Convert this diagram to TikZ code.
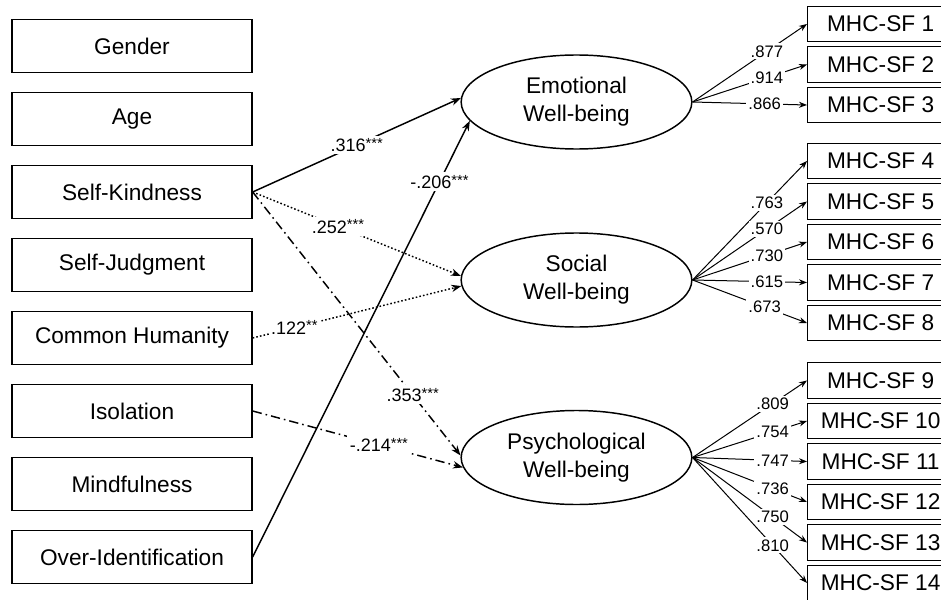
\documentclass[tikz,border=0pt]{standalone}
\usepackage{fontspec}
\setmainfont{Liberation Sans}
\usetikzlibrary{arrows.meta,shapes.geometric}
\def\pstar#1{\raisebox{2.5pt}{\fontsize{11}{11}\selectfont#1}}

\begin{document}
\begin{tikzpicture}[x=0.75pt,y=-0.75pt,obs/.style={shape=rectangle,draw=black,line width=1pt,minimum width=180pt,minimum height=39.75pt,font=\fontsize{17}{20}\selectfont},item/.style={shape=rectangle,draw=black,line width=0.9pt,minimum width=109.5pt,minimum height=26.5pt,anchor=west,font=\fontsize{17}{20}\selectfont},lat/.style={shape=ellipse,draw=black,line width=1.1pt,minimum width=173pt,minimum height=70.5pt,inner sep=0pt,align=center,font=\fontsize{17}{21}\selectfont},coef/.style={fill=white,inner sep=2pt,font=\fontsize{13.5}{15}\selectfont},lnum/.style={fill=white,inner sep=1.5pt,font=\fontsize{12.5}{13}\selectfont},reg/.style={line width=1.1pt,-{Stealth[length=7.5pt,width=5.5pt]}},regdot/.style={reg,dash pattern=on 1.2pt off 1.6pt},regdd/.style={reg,dash pattern=on 7pt off 3pt on 1.2pt off 3pt},ld/.style={line width=0.75pt,-{Stealth[length=6pt,width=4.5pt]}}]
\def\dy{73};
\def\xl{132};
\def\xm{576.5};
\def\xr{807};
\def\dyi{40.5};

\useasboundingbox (0,0) rectangle (941,599);
\clip (0,0) rectangle (941,599);

\node[obs] (Gen) at (\xl,46) {Gender};
\node[obs] (Age) at (\xl,46+\dy) {Age};
\node[obs] (SK) at (\xl,46+2*\dy) {Self-Kindness};
\node[obs] (SJ) at (\xl,46+3*\dy) {Self-Judgment};
\node[obs] (CH) at (\xl,46+4*\dy) {Common Humanity};
\node[obs] (Iso) at (\xl,46+5*\dy) {Isolation};
\node[obs] (Mind) at (\xl,46+6*\dy) {Mindfulness};
\node[obs] (OI) at (\xl,46+7*\dy) {Over-Identification};

\node[lat] (EWB) at (\xm,102) {Emotional\\Well-being};
\node[lat] (SWB) at (\xm,280) {Social\\Well-being};
\node[lat] (PWB) at (\xm,457.5) {Psychological\\Well-being};

\node[item] (M1) at (\xr,24) {MHC-SF 1};
\node[item] (M2) at (\xr,24+\dyi) {MHC-SF 2};
\node[item] (M3) at (\xr,24+2*\dyi) {MHC-SF 3};
\node[item] (M4) at (\xr,161) {MHC-SF 4};
\node[item] (M5) at (\xr,161+\dyi) {MHC-SF 5};
\node[item] (M6) at (\xr,161+2*\dyi) {MHC-SF 6};
\node[item] (M7) at (\xr,161+3*\dyi) {MHC-SF 7};
\node[item] (M8) at (\xr,161+4*\dyi) {MHC-SF 8};
\node[item] (M9) at (\xr,380.5) {MHC-SF 9};
\node[item] (M10) at (\xr,380.5+\dyi) {MHC-SF 10};
\node[item] (M11) at (\xr,380.5+2*\dyi) {MHC-SF 11};
\node[item] (M12) at (\xr,380.5+3*\dyi) {MHC-SF 12};
\node[item] (M13) at (\xr,380.5+4*\dyi) {MHC-SF 13};
\node[item] (M14) at (\xr,380.5+5*\dyi) {MHC-SF 14};

\draw[reg] (SK.east) -- node[coef,pos=.5] {.316\pstar{***}} (EWB.178);
\draw[reg] (OI.east) -- node[coef,pos=.86] {-.206\pstar{***}} (EWB.190);
\draw[regdot] (SK.east) -- node[coef,pos=.41] {.252\pstar{***}} (SWB.178);
\draw[regdot] (CH.east) -- node[coef,pos=.2] {.122\pstar{**}} (SWB.183);
\draw[regdd] (SK.east) -- node[coef,pos=.77] {.353\pstar{***}} (PWB.179);
\draw[regdd] (Iso.east) -- node[coef,pos=.6] {-.214\pstar{***}} (PWB.185);

\draw[ld] (EWB.east) -- node[lnum,pos=.65] {.877} (M1.west);
\draw[ld] (EWB.east) -- node[lnum,pos=.65] {.914} (M2.west);
\draw[ld] (EWB.east) -- node[lnum,pos=.63] {.866} (M3.west);

\draw[ld] (SWB.east) -- node[lnum,pos=.65] {.763} (M4.west);
\draw[ld] (SWB.east) -- node[lnum,pos=.65] {.570} (M5.west);
\draw[ld] (SWB.east) -- node[lnum,pos=.65] {.730} (M6.west);
\draw[ld] (SWB.east) -- node[lnum,pos=.65] {.615} (M7.west);
\draw[ld] (SWB.east) -- node[lnum,pos=.63] {.673} (M8.west);

\draw[ld] (PWB.east) -- node[lnum,pos=.7] {.809} (M9.west);
\draw[ld] (PWB.east) -- node[lnum,pos=.7] {.754} (M10.west);
\draw[ld] (PWB.east) -- node[lnum,pos=.7] {.747} (M11.west);
\draw[ld] (PWB.east) -- node[lnum,pos=.7] {.736} (M12.west);
\draw[ld] (PWB.east) -- node[lnum,pos=.7] {.750} (M13.west);
\draw[ld] (PWB.east) -- node[lnum,pos=.7] {.810} (M14.west);
\end{tikzpicture}
\end{document}
